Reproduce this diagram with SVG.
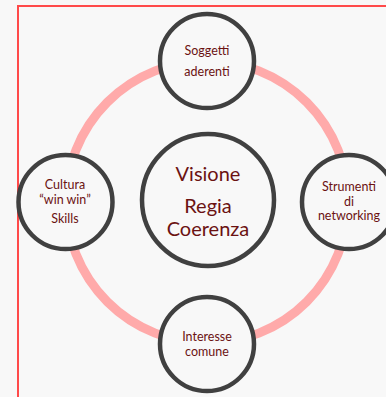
<svg xmlns="http://www.w3.org/2000/svg" width="386" height="397" viewBox="0 0 386 397">
<style>
.node{fill:#f8f8f8;stroke:#404040;stroke-width:4.5}
.t{font-family:Lato,"Open Sans","Liberation Sans",sans-serif;fill:#6b1212;text-anchor:middle}
.s{font-size:12.5px}
.b{font-size:20px}
</style>
<rect width="386" height="397" fill="#f8f8f8"/>
<path d="M18 397 V6 H386" fill="none" stroke="#ff4a4a" stroke-width="2"/>
<g id="connectors">
<circle cx="207" cy="202" r="141" fill="none" stroke="#ffaaaa" stroke-width="9"/>
</g>
<g id="center">
<circle class="node" cx="208" cy="200" r="66"/>
<text class="t b" x="208" y="181">Visione</text>
<text class="t b" x="208" y="213">Regia</text>
<text class="t b" x="208" y="236">Coerenza</text>
</g>
<g id="top">
<circle class="node" cx="207" cy="61" r="47"/>
<text class="t s" x="207" y="55">Soggetti</text>
<text class="t s" x="207" y="76">aderenti</text>
</g>
<g id="left">
<circle class="node" cx="65.5" cy="202" r="47"/>
<text class="t s" x="65" y="189">Cultura</text>
<text class="t s" x="65" y="204">“win win”</text>
<text class="t s" x="65" y="223">Skills</text>
</g>
<g id="right">
<circle class="node" cx="349" cy="202" r="47"/>
<text class="t s" x="349" y="191">Strumenti</text>
<text class="t s" x="349" y="205.5">di</text>
<text class="t s" x="349" y="220">networking</text>
</g>
<g id="bottom">
<circle class="node" cx="207" cy="344" r="47"/>
<text class="t s" x="207" y="341">Interesse</text>
<text class="t s" x="207" y="356">comune</text>
</g>
</svg>
